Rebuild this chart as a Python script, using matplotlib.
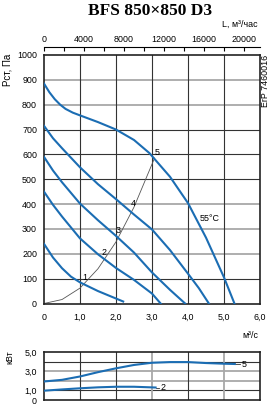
import matplotlib
matplotlib.use("Agg")
import matplotlib.pyplot as plt

# pressure curves, x in m3/s, y in Pa
x1 = [0, 0.25, 0.5, 0.75, 1.0, 1.5, 2.0, 2.2]
y1 = [240, 185, 142, 108, 85, 50, 20, 8]
x2 = [0, 0.25, 0.5, 1.0, 1.5, 2.0, 2.5, 3.0, 3.24]
y2 = [450, 397, 350, 262, 198, 143, 95, 40, 0]
x3 = [0, 0.25, 0.5, 1.0, 1.5, 2.0, 2.5, 3.0, 3.5, 3.92]
y3 = [590, 535, 488, 402, 335, 272, 205, 125, 55, 0]
x4 = [0, 0.25, 0.5, 1.0, 1.5, 2.0, 2.5, 3.0, 3.5, 4.0, 4.3, 4.58]
y4 = [715, 665, 625, 548, 480, 420, 358, 298, 215, 120, 62, 0]
x5 = [0, 0.15, 0.3, 0.45, 0.6, 0.8, 1.0, 1.5, 2.0, 2.5, 2.93, 3.2, 3.5, 4.0, 4.5, 5.0, 5.29]
y5 = [885, 850, 822, 800, 783, 768, 757, 730, 700, 658, 605, 560, 510, 404, 265, 105, 0]

# system curve through the operating points
xs = [0, 0.5, 1.0, 1.5, 2.0, 2.5, 3.07]
ys = [0, 16, 62, 140, 248, 388, 585]

# power, kW
px5 = [0, 0.5, 1.0, 1.5, 2.0, 2.5, 3.0, 3.5, 4.0, 4.5, 5.0, 5.3]
pw5 = [1.93, 2.1, 2.45, 2.9, 3.3, 3.65, 3.88, 3.95, 3.95, 3.85, 3.78, 3.75]
px2 = [0, 0.5, 1.0, 1.5, 2.0, 2.5, 3.1]
pw2 = [0.97, 1.1, 1.22, 1.32, 1.38, 1.38, 1.3]

x_ticks = [0, 1, 2, 3, 4, 5, 6]
x_labels = ["0", "1,0", "2,0", "3,0", "4,0", "5,0", "6,0"]
top_ticks = [0, 4000, 8000, 12000, 16000, 20000]
p_ticks = [0, 1, 3, 5]
p_labels = ["0", "1,0", "3,0", "5,0"]

plt.rcParams["font.family"] = ["Liberation Sans", "DejaVu Sans"]

blue = "#1b6db3"
dark = "#333333"
grey = "#a8a8a8"
fs = 6.4

fig = plt.figure(figsize=(2.73, 4.04), dpi=100)
ax = fig.add_axes([44 / 273, 1 - 303.5 / 404, 216 / 273, 248.5 / 404])
axp = fig.add_axes([44 / 273, 1 - 400 / 404, 216 / 273, 48 / 404])

# grid
for v in range(100, 1000, 100):
    g = v in (200, 300, 400, 800, 900)
    ax.axhline(v, color=grey if g else dark, lw=1.3 if g else 0.8, zorder=1)
for v in range(1, 6):
    ax.axvline(v, color=dark, lw=0.8, zorder=1)

for xx, yy in [(x1, y1), (x2, y2), (x3, y3), (x4, y4), (x5, y5)]:
    ax.plot(xx, yy, color=blue, lw=1.5, zorder=3)
ax.plot(xs, ys, color="#555555", lw=0.6, zorder=2)

for t, (tx, ty) in zip("12345", [(1.12, 106), (1.68, 205), (2.07, 292), (2.49, 404), (3.13, 606)]):
    ax.text(tx, ty, t, fontsize=fs, ha="center", va="center", zorder=4)
ax.text(4.32, 344, "55°C", fontsize=fs, ha="left", va="center")

ax.set_xlim(0, 6)
ax.set_ylim(0, 1000)
ax.set_xticks(x_ticks, x_labels)
ax.set_yticks(range(0, 1001, 100))
ax.tick_params(length=0, labelsize=fs, colors="black")
ax.tick_params(axis="x", pad=7)
ax.tick_params(axis="y", pad=5)
for s in ax.spines.values():
    s.set_linewidth(1.2)
    s.set_color("#222222")

top = ax.secondary_xaxis(1 + 8 / 248.5, functions=(lambda x: x * 3600, lambda v: v / 3600))
top.set_xticks(top_ticks)
top.set_xticks(range(0, 21001, 2000), minor=True)
top.tick_params(direction="in", length=3, width=0.8, labelsize=fs, pad=2)
top.tick_params(which="minor", direction="in", length=3, width=0.8)
top.spines["top"].set_linewidth(0.8)

# power chart
for v in range(1, 5):
    g = v in (2, 3)
    axp.axhline(v, color=grey if g else dark, lw=1.3 if g else 0.8, zorder=1)
for v in range(1, 6):
    g = v in (3, 5)
    axp.axvline(v, color=grey if g else dark, lw=1.3 if g else 0.8, zorder=1)
axp.plot(px5, pw5, color=blue, lw=1.5, zorder=3)
axp.plot(px2, pw2, color=blue, lw=1.5, zorder=3)
axp.plot([5.3, 5.45], [3.75, 3.75], color=dark, lw=0.6)
axp.plot([3.1, 3.2], [1.3, 1.3], color=dark, lw=0.6)
axp.text(5.5, 3.7, "5", fontsize=fs, ha="left", va="center")
axp.text(3.23, 1.25, "2", fontsize=fs, ha="left", va="center")
axp.set_xlim(0, 6)
axp.set_ylim(0, 5)
axp.set_xticks([])
axp.set_yticks(p_ticks, p_labels)
axp.tick_params(length=0, labelsize=fs, pad=5)
for s in axp.spines.values():
    s.set_linewidth(1.2)
    s.set_color("#222222")

fig.text(150 / 273, 1 - 11 / 404, "BFS 850×850 D3", family=["Liberation Serif", "DejaVu Serif"],
         fontweight="bold", fontsize=12.5, ha="center", va="center")
fig.text(258 / 273, 1 - 24 / 404, "L, м³/час", fontsize=fs, ha="right", va="center")
fig.text(8 / 273, 1 - 70 / 404, "Рст, Па", fontsize=fs + 0.6, rotation=90, ha="center", va="center")
fig.text(266 / 273, 1 - 81 / 404, "ErP 7460016", fontsize=fs, rotation=90, ha="center", va="center")
fig.text(258 / 273, 1 - 336 / 404, "м³/с", fontsize=fs, ha="right", va="center")
fig.text(10 / 273, 1 - 357 / 404, "кВт", fontsize=fs, rotation=90, ha="center", va="center")

fig.savefig("out.png", dpi=100)
